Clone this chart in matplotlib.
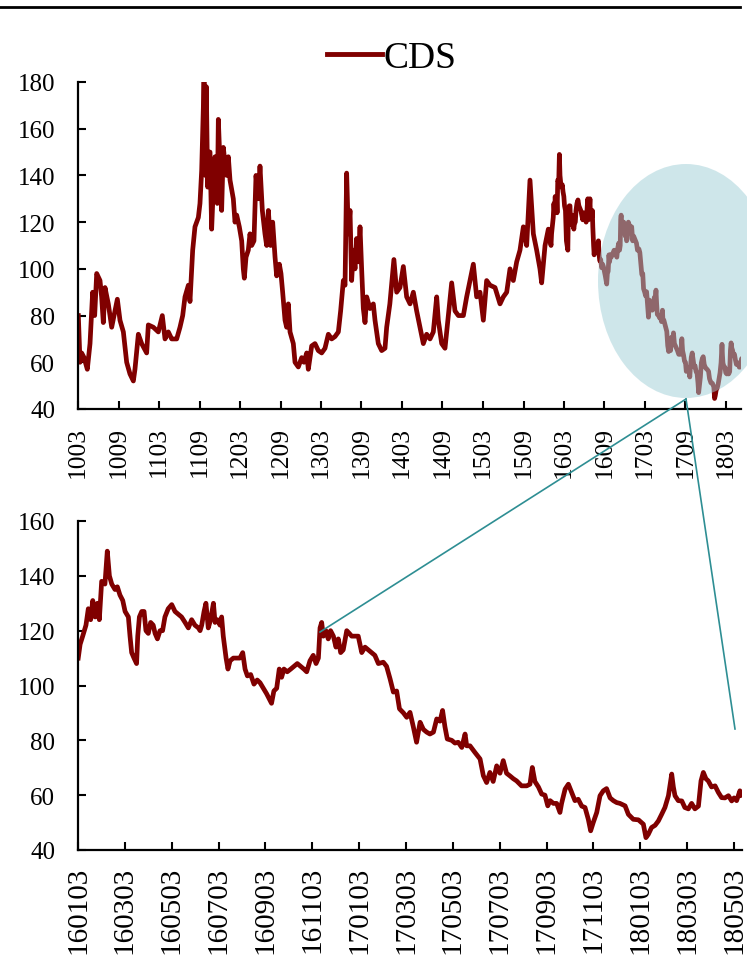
import matplotlib
matplotlib.use("Agg")
import matplotlib.pyplot as plt
import numpy as np
from matplotlib.patches import Ellipse
from matplotlib.lines import Line2D

plt.rcParams['font.family'] = ['Liberation Serif', 'DejaVu Serif']

# CDS spread, months since 2010-03-01 (top panel, up to end of 2015)
top_t = [0.05, 0.3, 0.54, 0.9, 1.38, 1.78, 2.17, 2.47, 2.77, 3.26, 3.5, 3.75, 4.0, 4.49,
         4.99, 5.48, 5.83, 6.22, 6.72, 7.21, 7.7, 8.2, 8.44, 8.94, 9.43, 10.17, 10.42,
         11.16, 11.9, 12.49, 12.89, 13.38, 13.88, 14.62, 15.11, 15.51, 15.85, 16.35,
         16.59, 16.99, 17.33, 17.83, 18.07, 18.32, 18.57, 18.67, 18.86, 19.01, 19.21,
         19.41, 19.56, 19.8, 20.05, 20.3, 20.64, 20.79, 21.04, 21.28, 21.53, 21.78,
         22.02, 22.27, 22.52, 23.01, 23.26, 23.51, 23.9, 24.25, 24.49, 24.64, 24.89,
         25.23, 25.48, 25.73, 26.07, 26.37, 26.72, 26.96, 27.31, 27.7, 27.95, 28.2,
         28.54, 28.84, 29.19, 29.43, 29.83, 30.07, 30.32, 30.67, 30.91, 31.16, 31.41,
         31.9, 32.15, 32.64, 33.14, 33.48, 33.88, 34.12, 34.62, 35.11, 35.6, 36.1,
         36.59, 37.09, 37.58, 38.07, 38.57, 38.91, 39.31, 39.56, 39.8, 40.05, 40.3,
         40.54, 40.79, 41.04, 41.28, 41.53, 41.78, 42.02, 42.27, 42.52, 42.77, 43.26,
         43.75, 44.0, 44.49, 44.99, 45.48, 45.73, 46.2, 46.8, 47.21, 47.7, 48.2, 48.69,
         49.19, 49.68, 50.17, 50.67, 51.16, 51.65, 52.15, 52.64, 53.14, 53.38, 53.88,
         54.37, 54.86, 55.36, 55.85, 56.35, 57.09, 57.58, 58.07, 58.57, 59.06, 59.56,
         60.05, 60.54, 61.04, 61.78, 62.52, 63.01, 63.51, 64.0, 64.49, 64.99, 65.48,
         65.98, 66.47, 66.96, 67.46, 67.95, 68.44, 68.69, 69.19, 69.68]
top_v = [80, 60, 64, 62, 57, 68, 90, 80, 98, 95, 88, 77, 92, 85,
         75, 82, 87, 78, 73, 60, 55, 52, 57, 72, 68, 64, 76,
         75, 73, 80, 70, 73, 70, 70, 75, 80, 88, 93,
         86, 108, 118, 122, 128, 142, 168, 180, 140, 178, 135,
         150, 150, 117, 135, 148, 128, 164, 145, 125, 152, 145,
         140, 148, 138, 130, 120, 123, 118, 112, 100, 96, 105,
         108, 115, 110, 112, 140, 130, 144, 125, 115, 110, 125,
         110, 120, 105, 97, 102, 98, 90, 78, 75, 85, 73,
         68, 60, 58, 62, 60, 64, 57, 67, 68, 65, 64,
         66, 72, 70, 71, 73, 82, 95, 93, 141, 115, 125,
         95, 108, 100, 113, 103, 118, 100, 83, 77, 88, 83,
         85, 78, 68, 65, 66, 75, 85, 104, 90, 92, 101, 88,
         85, 90, 82, 75, 68, 72, 70, 73, 88, 78, 68,
         66, 80, 94, 82, 80, 80, 88, 95, 102, 88, 90,
         78, 95, 93, 92, 85, 88, 90, 100, 95, 103, 108,
         118, 110, 138, 115, 108, 100, 94, 110, 117]

# zoomed panel, months since 2016-01-03
zoom_t = [0.01, 0.09, 0.2, 0.34, 0.44, 0.54, 0.63, 0.73, 0.83, 0.91, 1.01, 1.15, 1.25,
          1.34, 1.44, 1.58, 1.68, 1.79, 1.91, 2.01, 2.15, 2.22, 2.29, 2.39, 2.5, 2.55,
          2.62, 2.72, 2.82, 2.9, 3.0, 3.1, 3.21, 3.29, 3.39, 3.5, 3.61, 3.71, 3.85, 4.0,
          4.14, 4.28, 4.42, 4.57, 4.71, 4.85, 4.99, 5.14, 5.21, 5.28, 5.38, 5.46, 5.56,
          5.66, 5.78, 5.85, 5.95, 6.06, 6.13, 6.2, 6.32, 6.4, 6.49, 6.63, 6.77, 6.91,
          7.03, 7.13, 7.23, 7.37, 7.51, 7.65, 7.77, 7.91, 8.05, 8.17, 8.26, 8.36, 8.48,
          8.59, 8.69, 8.79, 8.93, 9.08, 9.22, 9.36, 9.5, 9.64, 9.76, 9.9, 10.04, 10.16,
          10.26, 10.33, 10.4, 10.47, 10.58, 10.68, 10.78, 10.9, 11.01, 11.11, 11.21,
          11.32, 11.47, 11.58, 11.68, 11.82, 11.96, 12.11, 12.25, 12.39, 12.53, 12.67,
          12.82, 13.03, 13.17, 13.32, 13.46, 13.6, 13.72, 13.89, 14.03, 14.17, 14.31,
          14.45, 14.6, 14.74, 14.88, 15.02, 15.17, 15.31, 15.45, 15.56, 15.66, 15.76,
          15.95, 16.09, 16.23, 16.38, 16.52, 16.59, 16.73, 16.94, 17.16, 17.3, 17.44,
          17.58, 17.72, 17.87, 18.01, 18.15, 18.29, 18.44, 18.58, 18.72, 18.93, 19.15,
          19.29, 19.39, 19.5, 19.65, 19.79, 19.93, 20.05, 20.15, 20.29, 20.43, 20.57,
          20.64, 20.79, 20.93, 21.07, 21.21, 21.35, 21.5, 21.64, 21.78, 21.88, 21.99,
          22.14, 22.28, 22.42, 22.56, 22.71, 22.85, 22.99, 23.13, 23.35, 23.49, 23.7,
          23.92, 24.13, 24.24, 24.34, 24.48, 24.63, 24.77, 24.91, 25.05, 25.2, 25.34,
          25.41, 25.48, 25.62, 25.77, 25.9, 26.05, 26.19, 26.33, 26.48, 26.59, 26.69,
          26.8, 26.9, 27.04, 27.19, 27.33, 27.47, 27.61, 27.76, 27.9, 28.0, 28.11,
          28.25, 28.32]
zoom_v = [110, 115, 118, 122, 128, 124, 131, 125, 130, 124, 138, 137, 149,
          140, 137, 135, 136, 133, 131, 127, 125, 118, 112, 110, 108, 118,
          125, 127, 127, 120, 119, 123, 122, 119, 117, 120, 120, 125, 128, 129.5,
          127, 126, 125, 123, 121, 124, 122, 121, 120, 122, 127, 130, 121,
          124, 130, 123, 124, 122, 125, 118, 110, 106, 109, 110, 110, 110,
          112, 106, 103.5, 104, 100.5, 102, 101, 99, 97, 95, 93.5, 98, 99,
          106, 103, 106, 105, 106, 107, 108, 107, 106, 105, 109, 111, 108,
          110, 121, 123, 118, 120, 117, 120, 118, 114, 117, 112,
          113, 120, 119, 118, 118, 118, 112, 114, 113, 112, 111,
          108, 108.5, 107, 102.4, 97.6, 98, 91.5, 90, 88.4, 90.2, 85,
          79.3, 86.6, 84, 83, 82.3, 83, 87.8, 87, 90.9, 85, 80.5,
          80, 79, 79.3, 77.4, 82.3, 78, 78, 75.6, 73.2, 67.1, 64.6,
          68.3, 65, 70.7, 68, 72.6, 68, 67, 66, 65.2, 63.4, 63.4,
          64, 70.1, 65, 63, 60.4, 60, 56.1, 58, 57, 57, 53.7,
          57, 62.2, 64, 61, 58, 58.5, 56, 55.5, 51.2, 47, 50,
          53.7, 59.8, 61.6, 62.4, 59, 58, 57.3, 57, 56.1, 53, 51.2,
          51, 49.4, 44.5, 45.7, 48.2, 49, 50.6, 53, 55.5, 59.8, 67.7,
          63, 59.8, 58, 57.9, 55.5, 55, 57, 55, 56, 65.2, 68.3,
          66, 65.2, 63, 63.4, 61, 59.1, 59, 59.8, 57.9, 59, 58,
          61.6, 60]

top_ticklabels = ['1003', '1009', '1103', '1109', '1203', '1209', '1303', '1309', '1403',
                  '1409', '1503', '1509', '1603', '1609', '1703', '1709', '1803']
zoom_ticklabels = ['160103', '160303', '160503', '160703', '160903', '161103', '170103',
                   '170303', '170503', '170703', '170903', '171103', '180103', '180303',
                   '180503']

RED = '#800000'
TEAL = '#2e8e93'
W, H = 747, 962

# zoom start (2016-01-03) in months since 2010-03-01
zoom_offset = (2016 - 2010) * 12 + (1 - 3) + 2 / 30.0
all_t = np.concatenate([top_t, np.array(zoom_t) + zoom_offset])
all_v = np.concatenate([top_v, zoom_v])

fig = plt.figure(figsize=(W / 100, H / 100), dpi=100)

def px(x, y):
    return (x / W, 1 - y / H)

def style(ax, xfs, xpad):
    for s in ['top', 'right']:
        ax.spines[s].set_visible(False)
    for s in ['left', 'bottom']:
        ax.spines[s].set_linewidth(1.6)
    ax.tick_params(axis='both', direction='in', length=5.5, width=1.5, colors='black')
    ax.tick_params(axis='y', labelsize=18, pad=16.5)
    ax.tick_params(axis='x', labelsize=xfs, pad=xpad)

# ---- top panel ----
ax1 = fig.add_axes([78 / W, 1 - 410 / H, 663 / W, 327 / H])
ax1.plot(all_t, all_v, color=RED, lw=3.4, label='CDS')
ax1.set_xlim(0, 663 / 6.75)
ax1.set_ylim(40, 180)
ax1.set_yticks(np.arange(40, 181, 20))
ax1.set_xticks(np.arange(0, 97, 6))
ax1.set_xticklabels(top_ticklabels, rotation=90)
style(ax1, 18.4, 12.5)

leg = ax1.legend(loc='center', bbox_to_anchor=px(392, 59), bbox_transform=fig.transFigure,
                 frameon=False, fontsize=27, handlelength=1.45, handletextpad=0.05,
                 borderpad=0)
leg.get_lines()[0].set_linewidth(3.5)

# highlight ellipse
ell = Ellipse(px(686, 282), 176 / W, 234 / H, transform=fig.transFigure,
              facecolor='#9fced6', edgecolor='none', alpha=0.5, zorder=5)
fig.add_artist(ell)

# ---- bottom panel ----
ax2 = fig.add_axes([78 / W, 1 - 851 / H, 664 / W, 329 / H])
ax2.plot(zoom_t, zoom_v, color=RED, lw=3.4)
ax2.set_xlim(0, 664 / 23.43)
ax2.set_ylim(40, 160)
ax2.set_yticks(np.arange(40, 161, 20))
ax2.set_xticks(np.arange(0, 29, 2))
ax2.set_xticklabels(zoom_ticklabels, rotation=90)
style(ax2, 21, 11.5)

# connector lines and the rule at the top
for end in [(320, 633), (735, 730)]:
    (x0, y0), (x1, y1) = px(686, 400), px(*end)
    fig.add_artist(Line2D([x0, x1], [y0, y1], color=TEAL, lw=1.2, zorder=6))
(x0, y0), (x1, y1) = px(0, 8), px(740, 8)
fig.add_artist(Line2D([x0, x1], [y0, y1], color='black', lw=2.0))

fig.savefig('out.png', dpi=100)
